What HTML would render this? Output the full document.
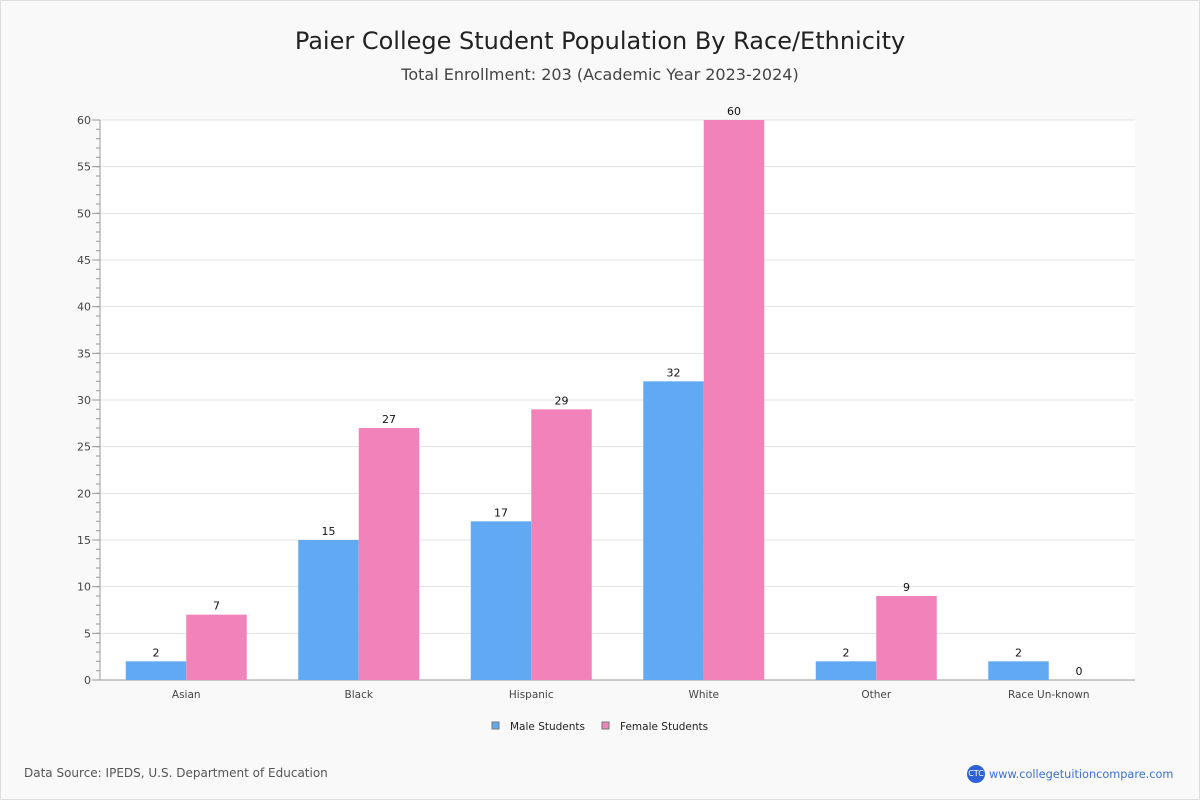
<!DOCTYPE html>
<html><head><meta charset="utf-8"><style>
body{margin:0;background:#fff;}
#wrap{position:relative;width:1198px;height:798px;background:#f9f9f9;border:1px solid #ddd;font-family:"DejaVu Sans","Liberation Sans",sans-serif;}
.t{position:absolute;left:0;width:1198px;text-align:center;color:#222;}
</style></head><body>
<div id="wrap">
<div class="t" style="top:26px;font-size:24px;">Paier College Student Population By Race/Ethnicity</div>
<div class="t" style="top:64px;font-size:16px;color:#444;">Total Enrollment: 203 (Academic Year 2023-2024)</div>
<svg id="chart" width="1200" height="800" style="position:absolute;left:-1px;top:-1px"></svg>
<div style="position:absolute;left:23px;top:765px;font-size:12px;color:#555;">Data Source: IPEDS, U.S. Department of Education</div>
<div style="position:absolute;left:966px;top:764px;font-size:11.3px;color:#3a6fd8;display:flex;align-items:center;"><span style="display:inline-block;width:18px;height:18px;border-radius:9px;background:#2d62d6;color:#fff;font-size:8px;line-height:18px;text-align:center;margin-right:4px;">CTC</span>www.collegetuitioncompare.com</div>
</div>
<script>
const categories=["Asian","Black","Hispanic","White","Other","Race Un-known"];
const maleValues=[2,15,17,32,2,2];
const femaleValues=[7,27,29,60,9,0];
const yTicks=[0,5,10,15,20,25,30,35,40,45,50,55,60];
const seriesNames=["Male Students","Female Students"];
const NS="http://www.w3.org/2000/svg";
const svg=document.getElementById('chart');
const X0=100,X1=1135,Y0=680,Y1=120,YMAX=60;
const y=v=>Y0-(v/YMAX)*(Y0-Y1);
const gw=(X1-X0)/categories.length;
const gx=i=>X0+gw*(i+0.5);
function mk(t,a,txt){const e=document.createElementNS(NS,t);for(const k in a)e.setAttribute(k,a[k]);if(txt!==undefined)e.textContent=txt;svg.appendChild(e);return e;}
let bg=mk('rect',{x:X0,y:Y1,width:X1-X0,height:Y0-Y1,fill:'#fff'});


for(let v=0;v<=YMAX;v++){mk('line',{x1:X0-4,x2:X0,y1:y(v),y2:y(v),stroke:'#999','stroke-width':1});}
yTicks.forEach(v=>{
 if(v>0){let g=mk('line',{x1:X0,x2:X1,y1:y(v),y2:y(v),stroke:'#e3e3e3'});}
 mk('line',{x1:X0-8,x2:X0,y1:y(v),y2:y(v),stroke:'#999'});
 let t=mk('text',{x:X0-9,y:y(v)+4,'text-anchor':'end','font-size':11,fill:'#444'},v);
 
 
});
mk('line',{x1:X0,x2:X0,y1:Y1,y2:Y0,stroke:'#999'});
mk('line',{x1:X0,x2:X1,y1:Y0,y2:Y0,stroke:'#999'});
const bw=60.5;
categories.forEach((c,i)=>{
 const cx=gx(i);
 [[maleValues[i],'#62a9f4',cx-bw],[femaleValues[i],'#f283ba',cx]].forEach((s,j)=>{
  let r=mk('rect',{x:s[2],y:y(s[0]),width:bw,height:Y0-y(s[0]),fill:s[1]});
  
  
  let l=mk('text',{x:s[2]+bw/2,y:y(s[0])-5,'text-anchor':'middle','font-size':11,fill:'#111'},s[0]);
  
  
 });
 let xl=mk('text',{x:cx,y:Y0+18,'text-anchor':'middle','font-size':10.5,fill:'#444'},c);
 
 
});
[[492,'#62a9f4'],[602,'#f283ba']].forEach((p,i)=>{
 let r=mk('rect',{x:p[0],y:722,width:7,height:7,fill:p[1],stroke:'#777','stroke-width':1});
 
 
 let t=mk('text',{x:p[0]+18,y:730,'font-size':10.5,fill:'#222'},seriesNames[i]);
 
 
});
</script>
</body></html>
